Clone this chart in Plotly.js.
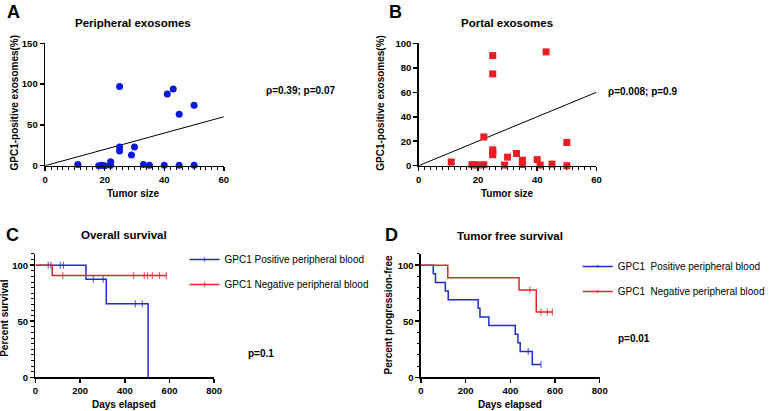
<!DOCTYPE html>
<html>
<head>
<meta charset="utf-8">
<script src="https://cdn.plot.ly/plotly-3.0.1.min.js"></script>
<style>
    html, body { margin: 0; padding: 0; background: #ffffff; }
    #figure { width: 770px; height: 411px; }
</style>
</head>
<body>
<div id="figure"></div>
<script>
// A - peripheral exosomes vs tumor size
const periphSize = [11, 18, 19, 20, 22, 22, 25, 25, 25, 29, 30, 33, 35, 40, 41, 43, 45, 45, 50, 50];
const periphPct = [1.5, 0, 0.5, 0, 0.5, 5, 97, 23, 18, 13, 23, 1.5, 0.5, 0.5, 88, 94, 63, 0.5, 74, 0.5];
const periphFitX = [0, 60];
const periphFitY = [0, 60];

// B - portal exosomes vs tumor size
const portalSize = [11, 18, 19, 20, 22, 22, 25, 25, 25, 25, 25, 29, 30, 33, 35, 35, 40, 41, 43, 45, 50, 50];
const portalPct = [3, 0.8, 0.8, 0.5, 23.5, 0.8, 90, 75, 13, 11, 9, 0.5, 7, 10, 4.5, 1, 5, 0.5, 93, 1.3, 19, 0];
const portalFitX = [0, 60];
const portalFitY = [0, 60];

// C - overall survival (time in days, percent survival, 1 = censored)
const osPosDays = [0, 57, 69, 111, 125, 226, 259, 303, 317, 447, 478, 504];
const osPosSurv = [100, 100, 100, 100, 100, 87.5, 87.5, 87.5, 65.6, 65.6, 65.6, 0];
const osPosCens = [0, 1, 1, 1, 1, 0, 1, 1, 0, 1, 1, 0];

const osNegDays = [0, 75, 122, 439, 487, 501, 523, 555, 586];
const osNegSurv = [100, 90.9, 90.9, 90.9, 90.9, 90.9, 90.9, 90.9, 90.9];
const osNegCens = [0, 0, 1, 1, 1, 1, 1, 1, 1];

// D - tumor free survival
const tfsPosDays = [0, 55, 65, 109, 122, 256, 264, 304, 422, 434, 444, 480, 498, 537];
const tfsPosSurv = [100, 92.3, 84.6, 76.9, 69.2, 61.5, 53.8, 46.2, 38.5, 30.8, 23.1, 23.1, 11.5, 11.5];
const tfsPosCens = [0, 0, 0, 0, 0, 0, 0, 0, 0, 0, 0, 1, 0, 1];

const tfsNegDays = [0, 120, 439, 487, 516, 537, 566, 588];
const tfsNegSurv = [100, 88.9, 77.8, 77.8, 58.3, 58.3, 58.3, 58.3];
const tfsNegCens = [0, 0, 0, 1, 0, 1, 1, 1];

const positiveName = "GPC1 Positive peripheral blood";
const negativeName = "GPC1 Negative peripheral blood";
const positiveNameD = "GPC1\u00a0 Positive peripheral blood";
const negativeNameD = "GPC1\u00a0 Negative peripheral blood";

const FONT = "Liberation Sans, Arial, Helvetica, sans-serif";
const BLUE = "#1f2bd0";
const RED = "#e3262c";

document.addEventListener("DOMContentLoaded", () => {
    renderFigure();
});


function survivalTrace(days, surv, cens, name, color, axes, legend, group) {
    return {
        x: days,
        y: surv,
        type: "scatter",
        mode: "lines+markers",
        name: name,
        xaxis: axes[0],
        yaxis: axes[1],
        legend: legend,
        legendgroup: group,
        line: { shape: "hv", color: color, width: 1.5 },
        marker: {
            symbol: "line-ns-open",
            size: cens.map(c => (c ? 5 : 0)),
            color: color,
            line: { color: color, width: 1.2 }
        },
        hoverinfo: "x+y"
    };
}


function axis(extra) {
    return Object.assign({
        showline: true,
        linecolor: "#000",
        linewidth: 1.5,
        ticks: "outside",
        ticklen: 4,
        tickwidth: 1.5,
        tickcolor: "#000",
        showgrid: false,
        zeroline: false,
        fixedrange: true,
        tickfont: { family: FONT, size: 9.5, color: "#000", weight: "bold" }
    }, extra);
}


function label(text, x, y, size, opts) {
    return Object.assign({
        text: text,
        x: x,
        y: y,
        xref: "paper",
        yref: "paper",
        showarrow: false,
        xanchor: "center",
        yanchor: "middle",
        font: { family: FONT, size: size, color: "#000", weight: "bold" }
    }, opts || {});
}


function renderFigure() {
    const traces = [
        {
            x: periphFitX, y: periphFitY, xaxis: "x", yaxis: "y",
            type: "scatter", mode: "lines", showlegend: false,
            line: { color: "#000", width: 1 }
        },
        {
            x: periphSize, y: periphPct, xaxis: "x", yaxis: "y",
            type: "scatter", mode: "markers", showlegend: false, cliponaxis: false,
            marker: { size: 7, color: "#0a18dc" }
        },
        {
            x: portalFitX, y: portalFitY, xaxis: "x2", yaxis: "y2",
            type: "scatter", mode: "lines", showlegend: false,
            line: { color: "#000", width: 1 }
        },
        {
            x: portalSize, y: portalPct, xaxis: "x2", yaxis: "y2",
            type: "scatter", mode: "markers", showlegend: false, cliponaxis: false,
            marker: { size: 7, symbol: "square", color: "#ec1c24" }
        },
        survivalTrace(osPosDays, osPosSurv, osPosCens, positiveName, BLUE, ["x3", "y3"], "legend", "c1"),
        survivalTrace(osNegDays, osNegSurv, osNegCens, negativeName, RED, ["x3", "y3"], "legend", "c2"),
        survivalTrace(tfsPosDays, tfsPosSurv, tfsPosCens, positiveNameD, BLUE, ["x4", "y4"], "legend2", "d1"),
        survivalTrace(tfsNegDays, tfsNegSurv, tfsNegCens, negativeNameD, RED, ["x4", "y4"], "legend2", "d2")
    ];

    const legendStyle = {
        xanchor: "left",
        yanchor: "top",
        bgcolor: "rgba(0,0,0,0)",
        font: { family: FONT, size: 10, color: "#000" },
        tracegroupgap: 6,
        itemclick: false
    };

    const layout = {
        width: 770,
        height: 411,
        margin: { l: 0, r: 0, t: 0, b: 0 },
        paper_bgcolor: "#ffffff",
        plot_bgcolor: "#ffffff",
        font: { family: FONT, size: 10, color: "#000" },
        showlegend: true,

        xaxis: axis({ domain: [0.0606, 0.3009], range: [0, 60], dtick: 20, anchor: "y",
            minor: { ticks: "outside", dtick: 2, ticklen: 2.5, tickwidth: 1, tickcolor: "#000" } }),
        yaxis: axis({ domain: [0.5968, 0.8946], range: [0, 150], dtick: 50, anchor: "x" }),

        xaxis2: axis({ domain: [0.5627, 0.8017], range: [0, 60], dtick: 20, anchor: "y2",
            minor: { ticks: "outside", dtick: 2, ticklen: 2.5, tickwidth: 1, tickcolor: "#000" } }),
        yaxis2: axis({ domain: [0.5968, 0.8946], range: [0, 100], dtick: 20, anchor: "x2" }),

        xaxis3: axis({ domain: [0.0477, 0.2879], range: [0, 800], dtick: 200, anchor: "y3" }),
        yaxis3: axis({ domain: [0.082, 0.382], range: [0, 110], tickvals: [0, 50, 100], anchor: "x3",
            minor: { ticks: "outside", dtick: 5, ticklen: 2.5, tickwidth: 1, tickcolor: "#000" } }),

        xaxis4: axis({ domain: [0.5658, 0.8061], range: [0, 800], dtick: 200, anchor: "y4" }),
        yaxis4: axis({ domain: [0.082, 0.382], range: [0, 110], tickvals: [0, 50, 100], anchor: "x4",
            minor: { ticks: "outside", dtick: 10, ticklen: 2.5, tickwidth: 1, tickcolor: "#000" } }),

        legend: Object.assign({ x: 0.248, y: 0.404 }, legendStyle),
        legend2: Object.assign({ x: 0.7765, y: 0.387 }, legendStyle),

        annotations: [
            // panel letters
            label("A", 0.0188, 0.972, 18),
            label("B", 0.531, 0.972, 18),
            label("C", 0.0162, 0.428, 18),
            label("D", 0.5266, 0.428, 18),

            // panel titles
            label("Peripheral exosomes", 0.179, 0.9448, 11.5),
            label("Portal exosomes", 0.6818, 0.9448, 11.5),
            label("Overall survival", 0.1662, 0.4282, 11.5),
            label("Tumor free survival", 0.6857, 0.4265, 11.5),

            // axis titles
            label("Tumor size", 0.179, 0.5304, 10),
            label("Tumor size", 0.6818, 0.5304, 10),
            label("Days elapsed", 0.1662, 0.0146, 10),
            label("Days elapsed", 0.6857, 0.0146, 10),
            label("GPC1-positive exosomes(%)", 0.0195, 0.7494, 10, { textangle: -90 }),
            label("GPC1-positive exosomes(%)", 0.5117, 0.7494, 10, { textangle: -90 }),
            label("Percent survival", 0.0065, 0.2263, 10, { textangle: -90 }),
            label("Percent progression-free", 0.5234, 0.2336, 10, { textangle: -90 }),

            // statistics
            label("\u03c1=0.39; p=0.07", 0.3545, 0.7786, 10, { xanchor: "left" }),
            label("\u03c1=0.008; p=0.9", 0.8143, 0.7762, 10, { xanchor: "left" }),
            label("p=0.1", 0.3312, 0.1411, 10, { xanchor: "left" }),
            label("p=0.01", 0.8273, 0.1752, 10, { xanchor: "left" })
        ]
    };

    Plotly.newPlot("figure", traces, layout, { displayModeBar: false, staticPlot: true });
}
</script>
</body>
</html>
